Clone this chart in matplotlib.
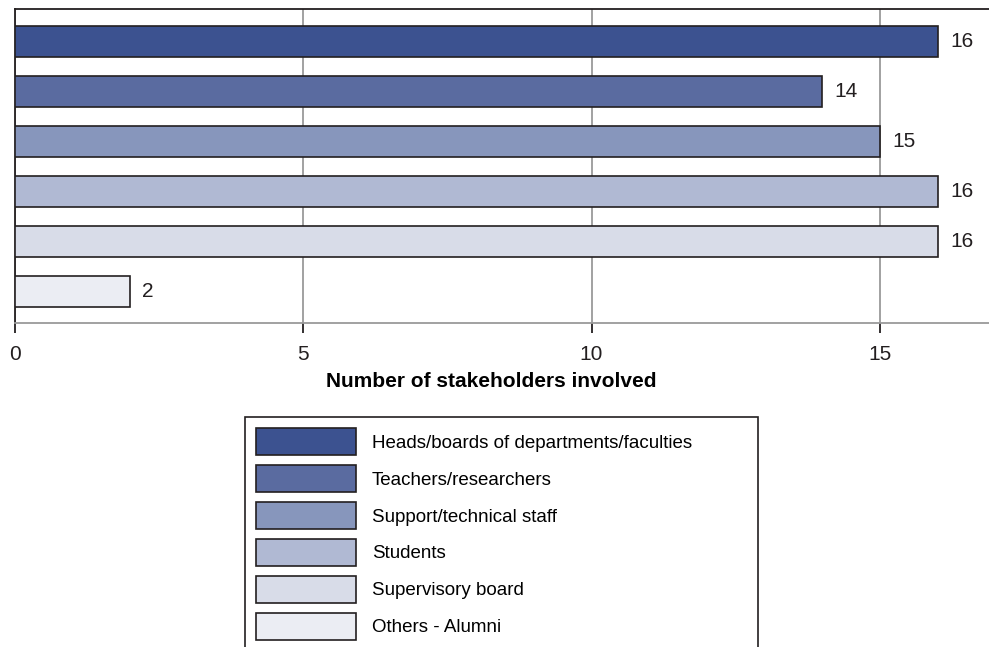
import matplotlib
matplotlib.use("Agg")
from matplotlib import pyplot as plt

plt.rcParams['font.family'] = ['Liberation Sans', 'DejaVu Sans']

# data
groups = ["Heads/boards of departments/faculties", "Teachers/researchers",
          "Support/technical staff", "Students", "Supervisory board",
          "Others - Alumni"]
counts = [16, 14, 15, 16, 16, 2]
colors = ["#3c5290", "#5a6ba0", "#8796bc", "#b0b9d3", "#d8dce8", "#ebedf3"]
xticks = [0, 5, 10, 15]

W, H = 989, 647
fig = plt.figure(figsize=(W / 100, H / 100), dpi=100)
ax = fig.add_axes([14.5 / W, 1 - 323 / H, 17 * 57.7 / W, (323 - 9) / H])

edge = "#231f20"
ypos = list(range(len(groups)))
bars = ax.barh(ypos, counts, height=0.62, color=colors, edgecolor=edge,
               linewidth=1.2, label=groups, zorder=3)
ax.bar_label(bars, padding=9, fontsize=15, color="#231f20")

ax.set_xlim(0, 17)
ax.set_ylim(5.62, -0.64)
ax.set_yticks([])
ax.set_xticks(xticks)
ax.tick_params(axis="x", direction="out", length=7, width=1.3, colors=edge,
               labelsize=15, pad=9)
ax.xaxis.grid(True, color="#9a9a9a", linewidth=1.3, zorder=0)
ax.set_axisbelow(True)

ax.spines["top"].set_color(edge)
ax.spines["top"].set_linewidth(1.3)
ax.spines["left"].set_color(edge)
ax.spines["left"].set_linewidth(1.3)
ax.spines["bottom"].set_color("#9a9a9a")
ax.spines["bottom"].set_linewidth(1.3)
ax.spines["right"].set_visible(False)

ax.set_xlabel("Number of stakeholders involved", fontsize=15,
              fontweight="bold")
# label sits a bit left of the axes centre in the original
ax.xaxis.set_label_coords((491 - 14.5) / (17 * 57.7), -(381.5 - 323) / (323 - 9))
ax.xaxis.label.set_verticalalignment("center")

leg = fig.legend(handles=list(bars), labels=groups, loc="upper left",
                 bbox_to_anchor=(245 / W, 1 - 417 / H, 513 / W, 0),
                 mode="expand", ncols=1, fontsize=13.5, frameon=True,
                 fancybox=False, framealpha=1, handlelength=5.33,
                 handleheight=1.84, labelspacing=0.53, handletextpad=0.85,
                 borderpad=0.59, borderaxespad=0)
leg.get_frame().set_edgecolor(edge)
leg.get_frame().set_linewidth(1.2)

fig.savefig("out.png", dpi=100)
